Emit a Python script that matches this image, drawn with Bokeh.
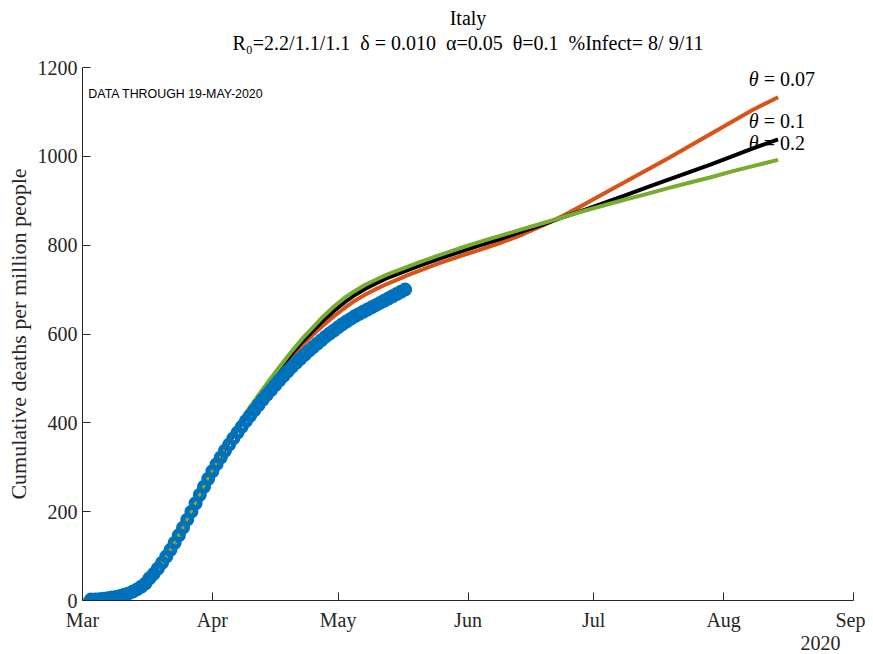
from bokeh.plotting import figure
from bokeh.models import FixedTicker, Label, Title, LinearAxis
from bokeh.embed import file_html
from bokeh.resources import INLINE

# ---- data (days since 1-Mar-2020) ----
data_day = list(range(2, 78))
data_deaths = [2, 2.5, 3, 4, 5, 7, 8, 10, 13, 16, 20, 25, 31, 38,
               50, 60, 72, 85, 99, 114, 130, 147, 164, 182, 200, 219, 238, 256, 274,
               291, 307, 322, 337, 351, 365, 378, 391, 404, 416, 428, 440, 452, 463,
               474, 485, 496, 506, 516, 526, 535, 544, 553, 562, 570, 578, 586, 594,
               601, 608, 615, 622, 628, 634, 640, 645, 650, 655, 660, 665, 670, 675,
               680, 685, 690, 695, 700]

fit_day = [0, 5, 10, 15, 20, 25, 30, 35, 37.5, 40, 42.5, 45, 47.5, 50, 52.5, 55, 57.5,
           60, 62.5, 65, 67.5, 70, 72.5, 75, 77.5, 80, 85, 90, 95, 100, 105, 110, 115,
           120, 125, 130, 135, 140, 145, 150, 155, 160, 166]
fit_theta007 = [1, 4, 13, 40, 99, 182, 274, 356, 392, 428, 461, 492, 521, 549, 575, 598,
                620, 640, 658, 675, 689, 701, 712, 722, 732, 741, 759, 775, 790, 806, 824,
                845, 868, 893, 919, 945, 971, 997, 1024, 1051, 1078, 1105, 1133]
fit_theta01 = [1, 4, 13, 40, 99, 183, 275, 359, 396, 432, 465, 497, 527, 556, 583, 607,
               631, 652, 671, 688, 702, 714, 725, 734, 743, 752, 769, 785, 800, 815, 831,
               847, 864, 880, 897, 914, 931, 948, 965, 982, 1000, 1018, 1038]
fit_theta02 = [1, 4, 13, 40, 99, 184, 277, 363, 400, 436, 469, 501, 532, 562, 590, 615,
               640, 662, 681, 697, 711, 722, 733, 742, 751, 760, 777, 793, 808, 822, 836,
               850, 864, 878, 891, 904, 916, 929, 941, 953, 966, 978, 992]

month_ticks = [0, 31, 61, 92, 122, 153, 184]
month_labels = ["Mar", "Apr", "May", "Jun", "Jul", "Aug", "Sep"]
y_ticks = [0, 200, 400, 600, 800, 1000, 1200]

theta_values = ["0.07", "0.1", "0.2"]
theta_label_y = [1175, 1079, 1031]

NB = "\u00a0"
title1 = "Italy"
title2 = ("R\u2080=2.2/1.1/1.1" + NB * 2 + "\u03b4" + NB + "=" + NB + "0.010" + NB * 2 +
          "\u03b1=0.05" + NB * 2 + "\u03b8=0.1" + NB * 2 + "%Infect=" + NB + "8/" + NB + "9/11")
note = "DATA THROUGH 19-MAY-2020"
year_label = "2020"

SERIF = "Liberation Serif"
AX = "#262626"

p = figure(width=865, height=652, output_backend="svg", toolbar_location=None,
           x_range=(0, 184), y_range=(0, 1200),
           min_border_left=82, min_border_right=12, min_border_top=67, min_border_bottom=52)
p.outline_line_color = None
p.xgrid.grid_line_color = None
p.ygrid.grid_line_color = None
p.background_fill_color = "white"

for ax in (p.xaxis[0], p.yaxis[0]):
    ax.axis_line_color = AX
    ax.major_tick_line_color = AX
    ax.major_tick_in = 8
    ax.major_tick_out = 0
    ax.minor_tick_line_color = None
    ax.major_label_text_font = SERIF
    ax.major_label_text_font_size = "20px"
    ax.major_label_text_color = AX

p.xaxis.ticker = FixedTicker(ticks=month_ticks)
p.xaxis.major_label_overrides = {t: l for t, l in zip(month_ticks, month_labels)}
p.xaxis.major_label_standoff = 8
p.yaxis.ticker = FixedTicker(ticks=y_ticks)
p.yaxis.major_label_standoff = 5
p.yaxis.axis_label = "Cumulative deaths per million people"
p.yaxis.axis_label_text_font = SERIF
p.yaxis.axis_label_text_font_style = "normal"
p.yaxis.axis_label_text_font_size = "22px"
p.yaxis.axis_label_text_color = AX
p.yaxis.axis_label_standoff = 4

# second title line carried by a bare axis above the frame
top_axis = LinearAxis(ticker=FixedTicker(ticks=[]), axis_line_color=None,
                      major_tick_line_color=None, minor_tick_line_color=None,
                      major_tick_in=0, major_tick_out=0,
                      axis_label=title2, axis_label_text_font=SERIF,
                      axis_label_text_font_size="20px", axis_label_text_font_style="normal",
                      axis_label_text_color="black", axis_label_standoff=14)
p.add_layout(top_axis, "above")
p.add_layout(Title(text=title1, text_font=SERIF, text_font_size="20px", text_color="black",
                   text_font_style="normal", align="center", standoff=0), "above")
p.add_layout(Title(text=year_label, text_font=SERIF, text_font_size="20px", text_color=AX,
                   text_font_style="normal", align="right", offset=13, standoff=0), "below")

p.line(fit_day, fit_theta007, line_color="#D95319", line_width=4)
p.line(fit_day, fit_theta01, line_color="black", line_width=4)
p.line(fit_day, fit_theta02, line_color="#77AC30", line_width=4)
p.scatter(data_day, data_deaths, marker="circle", size=9, fill_alpha=0,
          line_color="#0072BD", line_width=5)

for t, y in zip(theta_values, theta_label_y):
    p.add_layout(Label(x=159, y=y, text="\u03b8", text_font=SERIF, text_font_size="20px",
                       text_font_style="italic", text_color="black", text_baseline="middle"))
    p.add_layout(Label(x=159, y=y, x_offset=10, text=NB + "=" + NB + t, text_font=SERIF,
                       text_font_size="20px", text_color="black", text_baseline="middle"))

p.add_layout(Label(x=1.4, y=1140, text=note, text_font="Liberation Sans",
                   text_font_size="12.4px", text_color="black", text_baseline="middle"))

open("out.html", "w").write(file_html(p, INLINE))
